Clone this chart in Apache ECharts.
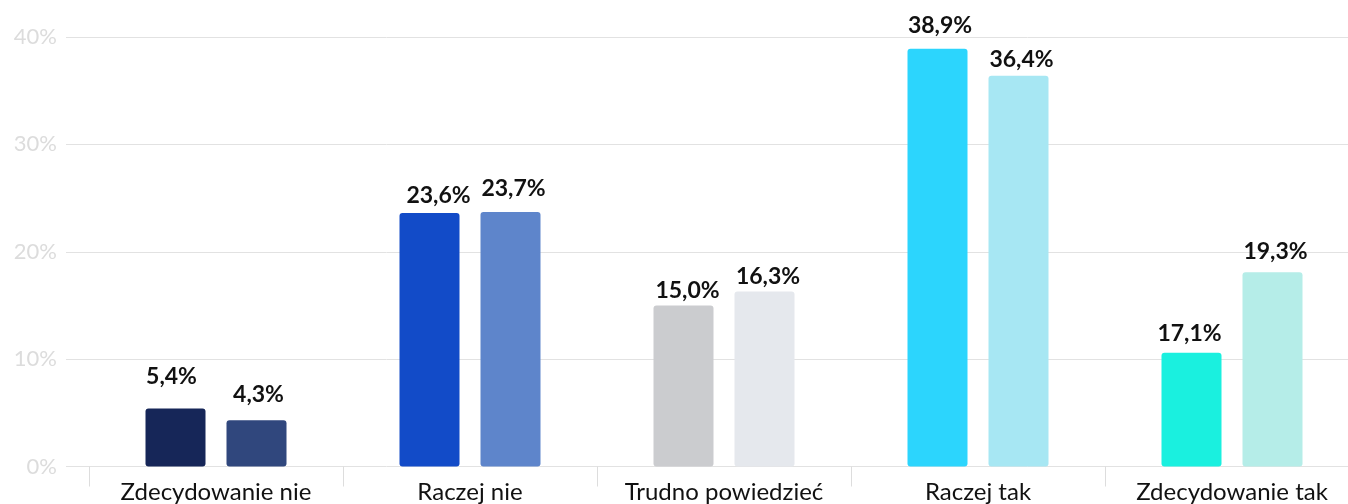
<!DOCTYPE html>
<html><head><meta charset="utf-8">
<script src="https://cdn.jsdelivr.net/npm/echarts@6/dist/echarts.min.js"></script>
<style>html,body{margin:0;padding:0;background:#fff}#c{width:1348px;height:504px}</style>
</head><body><div id="c"></div>
<script>
var categories = ['Zdecydowanie nie', 'Raczej nie', 'Trudno powiedzieć', 'Raczej tak', 'Zdecydowanie tak'];
var valuesA = [5.4, 23.6, 15.0, 38.9, 10.6];
var valuesB = [4.3, 23.7, 16.3, 36.4, 18.1];
var labelsA = ['5,4%', '23,6%', '15,0%', '38,9%', '17,1%'];
var labelsB = ['4,3%', '23,7%', '16,3%', '36,4%', '19,3%'];
var yTicks = [0, 10, 20, 30, 40];

var colorsA = ['#162658', '#124bc8', '#cbcccf', '#2cd5fd', '#1af0df'];
var colorsB = ['#30477d', '#5e85cb', '#e5e8ed', '#a7e7f3', '#b5ede8'];
var offA = [[-4, -20.3], [9, -6.5], [4, -3.5], [2.5, -11.5], [-2, -8]];
var offB = [[2, -14.5], [3, -12.1], [3.5, -3], [3, -4.8], [3, -9.2]];

function items(vals, labels, colors, offs) {
  return vals.map(function (v, i) {
    return {
      value: v,
      itemStyle: { color: colors[i] },
      label: { formatter: labels[i], offset: offs[i] }
    };
  });
}

var font = 'Lato, "DejaVu Sans", sans-serif';
var chart = echarts.init(document.getElementById('c'));
chart.setOption({
  animation: false,
  textStyle: { fontFamily: font },
  grid: [
    { left: 66, right: 0, top: 37, height: 429.5, outerBoundsMode: 'none', containLabel: false },
    { left: 89, width: 1270, top: 37, height: 429.5, outerBoundsMode: 'none', containLabel: false }
  ],
  xAxis: [
    { gridIndex: 0, type: 'category', data: categories, show: false },
    {
      gridIndex: 1, type: 'category', data: categories,
      axisLine: { show: false },
      axisTick: { show: true, length: 20, lineStyle: { color: '#dddddd', width: 1 } },
      axisLabel: { color: '#111111', fontSize: 24, fontFamily: font, margin: 14, interval: 0, hideOverlap: false }
    }
  ],
  yAxis: [
    {
      gridIndex: 0, type: 'value', min: yTicks[0], max: yTicks[yTicks.length - 1], interval: 10,
      axisLine: { show: false }, axisTick: { show: false },
      axisLabel: { formatter: '{value}%', color: '#dcdcdc', fontSize: 22, fontFamily: font, margin: 9 },
      splitLine: { lineStyle: { color: '#e2e2e2', width: 1 } }
    },
    {
      gridIndex: 1, type: 'value', min: yTicks[0], max: yTicks[yTicks.length - 1], interval: 10,
      show: false, splitLine: { show: false }
    }
  ],
  series: [
    {
      type: 'bar', xAxisIndex: 1, yAxisIndex: 1,
      barWidth: 60, barGap: '35%',
      itemStyle: { borderRadius: 3 },
      label: { show: true, position: 'top', distance: 0, fontSize: 23, fontWeight: 'bold', color: '#111111', fontFamily: font },
      data: items(valuesA, labelsA, colorsA, offA)
    },
    {
      type: 'bar', xAxisIndex: 1, yAxisIndex: 1,
      barWidth: 60, barGap: '35%',
      itemStyle: { borderRadius: 3 },
      label: { show: true, position: 'top', distance: 0, fontSize: 23, fontWeight: 'bold', color: '#111111', fontFamily: font },
      data: items(valuesB, labelsB, colorsB, offB)
    }
  ]
});
</script>
</body></html>
